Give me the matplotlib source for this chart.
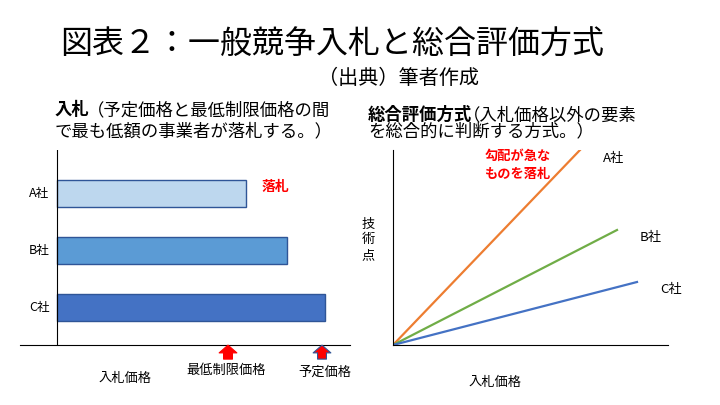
import matplotlib
matplotlib.use("Agg")
import matplotlib.pyplot as plt

plt.rcParams['font.family'] = ['Noto Sans CJK JP', 'DejaVu Sans']

W, H = 720, 405

# left panel: bid prices
companies = ['A社', 'B社', 'C社']
bid_price = [189, 230, 268]
bar_colors = ['#BDD7EE', '#5B9BD5', '#4472C4']
min_price = 171
planned_price = 265

# right panel: score lines (end points of each line)
line_labels = ['A社', 'B社', 'C社']
line_x = [187, 224, 244]
line_y = [195, 115, 63]
line_colors = ['#ED7D31', '#70AD47', '#4472C4']


def fx(x):
    return x / W


def fy(y):
    return 1 - y / H


def axes_px(x0, y0, x1, y1):
    return fig.add_axes([fx(x0), fy(y1), (x1 - x0) / W, (y1 - y0) / H])


fig = plt.figure(figsize=(W / 100, H / 100), dpi=100)

fig.text(fx(60), fy(45), '図表２：一般競争入札と総合評価方式', fontsize=23, va='center')
fig.text(fx(318), fy(78), '（出典）筆者作成', fontsize=14.5, va='center')

# ---- left panel
fig.text(fx(55), fy(110), '入札', fontsize=12.5, weight='bold', va='center')
fig.text(fx(87), fy(110), '（予定価格と最低制限価格の間', fontsize=12.5, va='center')
fig.text(fx(55), fy(131), 'で最も低額の事業者が落札する。）', fontsize=12.5, va='center')

ax = axes_px(20, 150, 350, 345)
ax.barh(range(len(companies)), bid_price, height=0.47, color=bar_colors,
        edgecolor='#2F5597', linewidth=1)
ax.set_xlim(-37, 293)
ax.set_ylim(2.658, -0.763)
ax.axvline(0, color='black', lw=0.8)
ax.axhline(2.658, color='black', lw=0.8, clip_on=False)
for s in ax.spines.values():
    s.set_visible(False)
ax.set_xticks([])
ax.set_yticks([])
for i, c in enumerate(companies):
    ax.text(-28, i, c, fontsize=9, va='center')
ax.text(bid_price[0] + 16, 0 - 0.12, '落札', color='#FF0000', fontsize=10,
        weight='bold', va='center')
for p, ec in [(min_price, '#FF0000'), (planned_price, '#2F5597')]:
    ax.annotate('', xy=(p, 2.66), xytext=(p, 2.66 + 14 / 57),
                xycoords='data', annotation_clip=False,
                arrowprops=dict(arrowstyle='simple,head_width=1.6,head_length=0.7,tail_width=0.8',
                                mutation_scale=8, shrinkA=0, shrinkB=0,
                                fc='#FF0000', ec=ec, lw=0.8))
fig.text(fx(125), fy(378), '入札価格', fontsize=9.5, ha='center', va='center')
fig.text(fx(226), fy(370), '最低制限価格', fontsize=9.5, ha='center', va='center')
fig.text(fx(325), fy(372), '予定価格', fontsize=9.5, ha='center', va='center')

# ---- right panel
fig.text(fx(368), fy(115), '総合評価方式', fontsize=12.5, weight='bold', va='center')
fig.text(fx(463), fy(115), '（入札価格以外の要素', fontsize=12.5, va='center')
fig.text(fx(368), fy(131), 'を総合的に判断する方式。）', fontsize=12.5, va='center')

ax2 = axes_px(393, 150, 668, 345)
for lx, ly, c in zip(line_x, line_y, line_colors):
    ax2.plot([0, lx], [0, ly], color=c, lw=1.6)
for lab, lx, ly in zip(line_labels, line_x, line_y):
    ax2.text(lx + 23, ly - 8, lab, fontsize=9.5, va='center')
ax2.set_xlim(0, 275)
ax2.set_ylim(0, 195)
for side in ['top', 'right']:
    ax2.spines[side].set_visible(False)
ax2.spines['left'].set_linewidth(0.8)
ax2.spines['bottom'].set_linewidth(0.8)
ax2.set_xticks([])
ax2.set_yticks([])
ax2.text(92, 180, '勾配が急な\nものを落札', color='#FF0000', fontsize=9.5,
         weight='bold', va='center', linespacing=1.3)
fig.text(fx(368), fy(240), '技\n術\n点', fontsize=9.5, ha='center', va='center',
         linespacing=1.3)
fig.text(fx(495), fy(382), '入札価格', fontsize=9.5, ha='center', va='center')

fig.savefig('out.png', dpi=100)
